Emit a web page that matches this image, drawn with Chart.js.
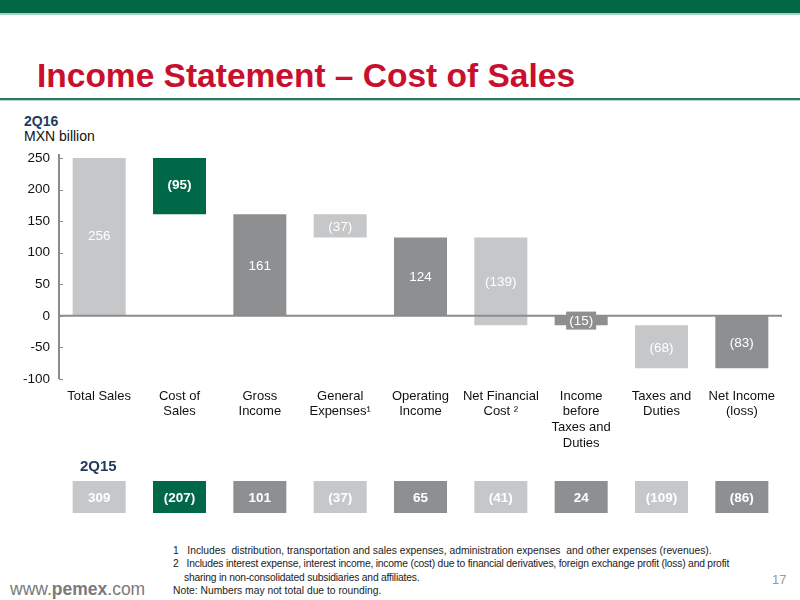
<!DOCTYPE html>
<html>
<head>
<meta charset="utf-8">
<script src="https://cdn.jsdelivr.net/npm/chart.js@4"></script>
<style>
  body { margin: 0; width: 800px; height: 600px; position: relative; overflow: hidden; background: #fff; font-family: "Liberation Sans", Arial, sans-serif; }
  .topbar { position: absolute; left: 0; top: 0; width: 800px; height: 13px; background: #006847; border-bottom: 2px solid #a3d3bf; }
  .title { position: absolute; left: 37px; top: 57px; font-size: 33.5px; font-weight: bold; color: #c8102e; white-space: nowrap; }
  .rule { position: absolute; left: 0; top: 98px; width: 800px; height: 2px; background: #2d7a5a; border-bottom: 1px solid #b9ddcd; }
  .period { position: absolute; left: 24px; top: 113px; font-size: 14px; font-weight: bold; color: #1f3a5f; }
  .unit { position: absolute; left: 24px; top: 128px; font-size: 14px; color: #111; }
  .prev { position: absolute; left: 80px; top: 457px; font-size: 15px; font-weight: bold; color: #1f3a5f; }
  #wrap { position: absolute; left: 0; top: 140px; width: 800px; height: 390px; }
  .notes { position: absolute; left: 173px; top: 544px; font-size: 10.3px; color: #222; line-height: 13.3px; white-space: nowrap; }
  .notes .n { padding-left: 11px; text-indent: -11px; }
  .notes .tight { letter-spacing: -0.2px; }
  .web { position: absolute; left: 10px; top: 579px; font-size: 17.5px; color: #7a7a7a; }
  .page { position: absolute; left: 772px; top: 572px; font-size: 13px; color: #9a9a9a; }
</style>
</head>
<body>
<div class="topbar"></div>
<div class="title">Income Statement – Cost of Sales</div>
<div class="rule"></div>
<div class="period">2Q16</div>
<div class="unit">MXN billion</div>
<div id="wrap"><canvas id="chart" width="800" height="390"></canvas></div>
<div class="prev">2Q15</div>
<div class="notes">
  <div class="n">1&nbsp;&nbsp; Includes&nbsp; distribution, transportation and sales expenses, administration expenses&nbsp; and other expenses (revenues).</div>
  <div class="n tight">2&nbsp;&nbsp; Includes interest expense, interest income, income (cost) due to financial derivatives, foreign exchange profit (loss) and profit<br>sharing in non-consolidated subsidiaries and affiliates.</div>
  <div>Note: Numbers may not total due to rounding.</div>
</div>
<div class="web">www.<b>pemex</b>.com</div>
<div class="page">17</div>

<script>
const categories = [
    ["Total Sales"],
    ["Cost of", "Sales"],
    ["Gross", "Income"],
    ["General", "Expenses¹"],
    ["Operating", "Income"],
    ["Net Financial", "Cost ²"],
    ["Income", "before", "Taxes and", "Duties"],
    ["Taxes and", "Duties"],
    ["Net Income", "(loss)"]
];

// 2Q16 waterfall: each bar floats from start to end
const barStart = [0, 256, 0, 161, 0, 124, 0, -15, 0];
const barEnd = [256, 161, 161, 124, 124, -15, -15, -83, -83];

// 2Q15 comparison row
const prior = [309, -207, 101, -37, 65, -41, 24, -109, -86];

const yTicks = [250, 200, 150, 100, 50, 0, -50, -100];

const LIGHT = "#c6c7c9";
const DARK = "#8e8f91";
const GREEN = "#006847";
const barColors = [LIGHT, GREEN, DARK, LIGHT, DARK, LIGHT, DARK, LIGHT, DARK];
const FONT = "'Liberation Sans', Arial, sans-serif";

const fmt = (v) => (v < 0 ? "(" + Math.abs(v) + ")" : String(v));

const waterfallPlugin = {
    id: "waterfall",
    afterDatasetsDraw(chart) {
        const ctx = chart.ctx;
        const area = chart.chartArea;
        const y = chart.scales.y;
        const zeroY = y.getPixelForValue(0);

        ctx.save();
        // zero line over the bars
        ctx.strokeStyle = "#8c8c8c";
        ctx.lineWidth = 2;
        ctx.beginPath();
        ctx.moveTo(area.left, zeroY);
        ctx.lineTo(area.right, zeroY);
        ctx.stroke();

        // y axis with small inner ticks
        ctx.beginPath();
        ctx.moveTo(area.left, area.top - 4);
        ctx.lineTo(area.left, area.bottom);
        ctx.stroke();
        ctx.lineWidth = 1;
        yTicks.forEach(v => {
            const py = Math.round(y.getPixelForValue(v)) + 0.5;
            ctx.beginPath();
            ctx.moveTo(area.left, py);
            ctx.lineTo(area.left + 4, py);
            ctx.stroke();
        });

        // value labels inside bars
        const meta = chart.getDatasetMeta(0);
        ctx.textAlign = "center";
        ctx.textBaseline = "middle";
        meta.data.forEach((bar, i) => {
            const label = fmt(barEnd[i] - barStart[i]);
            const cy = (bar.y + bar.base) / 2;
            ctx.font = (barColors[i] === GREEN ? "bold " : "") + "13.5px " + FONT;
            if (Math.abs(bar.y - bar.base) < 18) {
                // bar too thin for its label: put the label on a small box
                const w = ctx.measureText(label).width + 6;
                ctx.fillStyle = barColors[i];
                ctx.fillRect(bar.x - w / 2, cy - 9, w, 18);
            }
            ctx.fillStyle = "#ffffff";
            ctx.fillText(label, bar.x, cy + 1);
        });

        // 2Q15 boxes under the categories
        const boxTop = 341, boxH = 32;
        prior.forEach((v, i) => {
            const bar = meta.data[i];
            const w = bar.width;
            ctx.fillStyle = barColors[i];
            ctx.fillRect(bar.x - w / 2, boxTop, w, boxH);
            ctx.fillStyle = "#ffffff";
            ctx.font = "bold 13.5px " + FONT;
            ctx.fillText(fmt(v), bar.x, boxTop + boxH / 2 + 1);
        });
        ctx.restore();
    }
};

new Chart(document.getElementById("chart"), {
    type: "bar",
    data: {
        labels: categories,
        datasets: [{
            data: barStart.map((s, i) => [s, barEnd[i]]),
            backgroundColor: barColors,
            borderWidth: 0,
            barPercentage: 0.66,
            categoryPercentage: 1
        }]
    },
    options: {
        responsive: false,
        animation: false,
        layout: { padding: { top: 18, right: 18, left: 0, bottom: 0 } },
        plugins: { legend: { display: false }, tooltip: { enabled: false } },
        scales: {
            x: {
                grid: { display: false, drawTicks: false },
                border: { display: false },
                ticks: { color: "#111", font: { size: 13, family: FONT, lineHeight: 1.22 }, padding: 9, maxRotation: 0, autoSkip: false },
                afterFit(scale) { scale.height = 151; }
            },
            y: {
                min: -100,
                max: 250,
                grid: { display: false, drawTicks: false },
                border: { display: false },
                ticks: { color: "#111", font: { size: 13.5, family: FONT }, padding: 9 },
                afterBuildTicks(scale) { scale.ticks = yTicks.map(v => ({ value: v })); },
                afterFit(scale) { scale.width = 59; }
            }
        }
    },
    plugins: [waterfallPlugin]
});
</script>
</body>
</html>
